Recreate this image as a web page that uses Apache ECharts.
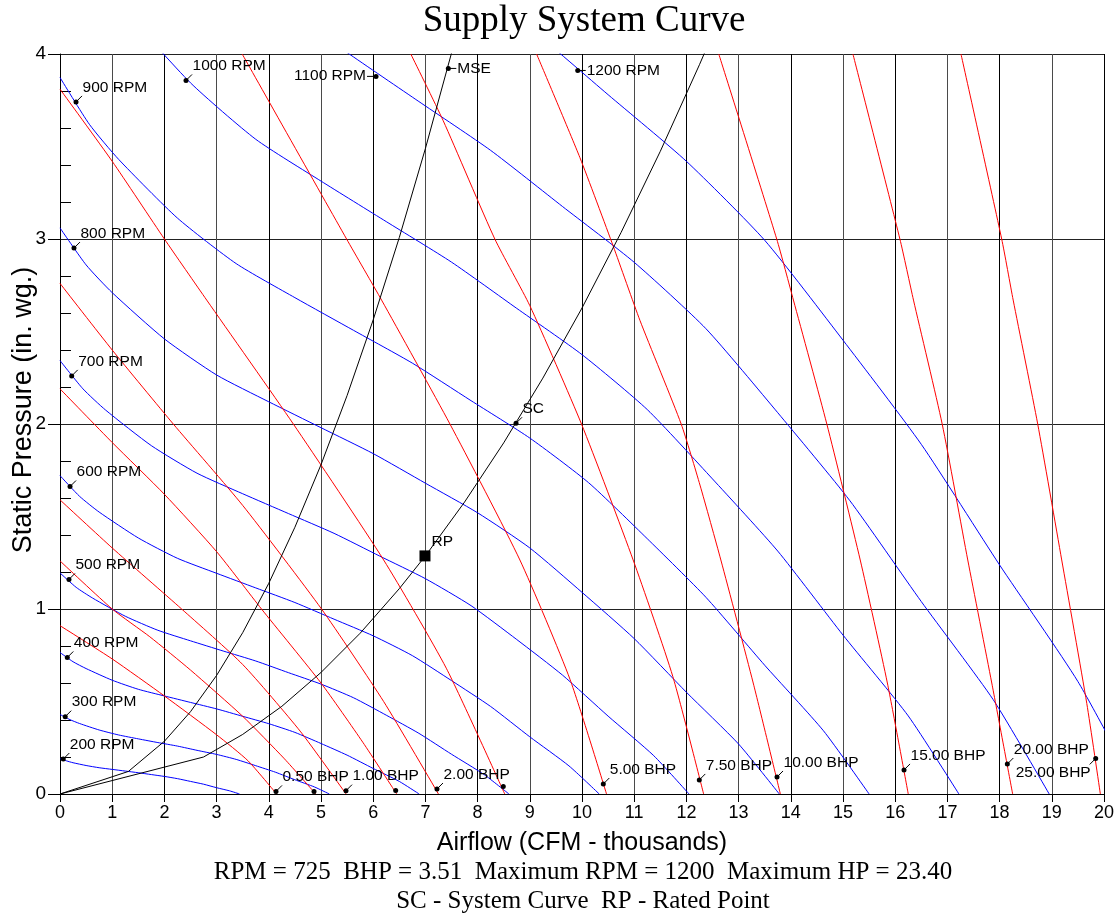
<!DOCTYPE html>
<html>
<head>
<meta charset="utf-8">
<title>Supply System Curve</title>
<script src="https://cdn.jsdelivr.net/npm/echarts/dist/echarts.min.js"></script>
<style>
  html, body { margin: 0; padding: 0; background: #fff; }
  #chart { width: 1118px; height: 916px; }
</style>
</head>
<body>
<div id="chart"></div>
<script>
// fan curves, one per speed (airflow in CFM thousands, static pressure in in. wg.)
const rpmNames = ['200 RPM', '300 RPM', '400 RPM', '500 RPM', '600 RPM', '700 RPM',
  '800 RPM', '900 RPM', '1000 RPM', '1100 RPM', '1200 RPM'];
const rpmCurves = [
  [[0,0.191],[0.125,0.179],[0.25,0.169],[0.5,0.154],[0.75,0.142],[1,0.133],[1.25,0.124],[1.5,0.115],[1.75,0.105],[2,0.095],[2.25,0.083],[2.5,0.068],[2.75,0.053],[3,0.034],[3.25,0.017],[3.44,0]],
  [[0,0.430],[0.19,0.402],[0.375,0.381],[0.75,0.346],[1.125,0.319],[1.5,0.298],[1.875,0.278],[2.25,0.259],[2.625,0.236],[3,0.214],[3.375,0.187],[3.75,0.153],[4.125,0.118],[4.5,0.077],[4.875,0.038],[5.16,0]],
  [[0,0.765],[0.25,0.715],[0.5,0.678],[1,0.615],[1.5,0.566],[2,0.53],[2.5,0.495],[3,0.46],[3.5,0.42],[4,0.38],[4.5,0.333],[5,0.273],[5.5,0.21],[6,0.138],[6.5,0.068],[6.88,0]],
  [[0,1.195],[0.31,1.117],[0.625,1.059],[1.25,0.961],[1.875,0.885],[2.5,0.828],[3.125,0.773],[3.75,0.719],[4.375,0.656],[5,0.594],[5.625,0.52],[6.25,0.426],[6.875,0.328],[7.5,0.215],[8.125,0.105],[8.6,0]],
  [[0,1.721],[0.375,1.609],[0.75,1.524],[1.5,1.384],[2.25,1.274],[3,1.193],[3.75,1.114],[4.5,1.035],[5.25,0.945],[6,0.855],[6.75,0.748],[7.5,0.613],[8.25,0.473],[9,0.309],[9.75,0.152],[10.33,0]],
  [[0,2.343],[0.44,2.19],[0.875,2.075],[1.75,1.883],[2.625,1.734],[3.5,1.623],[4.375,1.516],[5.25,1.409],[6.125,1.286],[7,1.164],[7.875,1.018],[8.75,0.835],[9.625,0.643],[10.5,0.421],[11.375,0.207],[12.05,0]],
  [[0,3.06],[0.5,2.86],[1,2.71],[2,2.46],[3,2.265],[4,2.12],[5,1.98],[6,1.84],[7,1.68],[8,1.52],[9,1.33],[10,1.09],[11,0.84],[12,0.55],[13,0.27],[13.78,0]],
  [[0,3.873],[0.5625,3.62],[1.125,3.43],[2.25,3.113],[3.375,2.867],[4.5,2.683],[5.625,2.506],[6.75,2.329],[7.875,2.126],[9,1.924],[10.125,1.683],[11.25,1.38],[12.375,1.063],[13.5,0.696],[14.625,0.342],[15.5,0]],
  [[0,4.781],[0.625,4.469],[1.25,4.234],[2.5,3.844],[3.75,3.539],[5,3.313],[6.25,3.094],[7.5,2.875],[8.75,2.625],[10,2.375],[11.25,2.078],[12.5,1.703],[13.75,1.313],[15,0.859],[16.25,0.422],[17.22,0]],
  [[0,5.785],[0.6875,5.407],[1.375,5.124],[2.75,4.651],[4.125,4.282],[5.5,4.008],[6.875,3.743],[8.25,3.479],[9.625,3.176],[11,2.874],[12.375,2.515],[13.75,2.061],[15.125,1.588],[16.5,1.04],[17.875,0.511],[18.95,0]],
  [[0,6.885],[0.75,6.435],[1.5,6.098],[3,5.535],[4.5,5.096],[6,4.77],[7.5,4.455],[9,4.14],[10.5,3.78],[12,3.42],[13.5,2.993],[15,2.453],[16.5,1.89],[18,1.238],[19.5,0.608],[20.67,0]]
];

// constant brake horsepower curves
const bhpNames = ['0.50 BHP', '0.75 BHP', '1.00 BHP', '1.50 BHP', '2.00 BHP', '3.00 BHP',
  '5.00 BHP', '7.50 BHP', '10.00 BHP', '15.00 BHP', '20.00 BHP', '25.00 BHP'];
const bhpCurves = [
  [[0,0.91],[1,0.73],[2,0.53],[3,0.32],[3.6,0.18],[4.15,0]],
  [[0,1.26],[1,1.0],[1.72,0.85],[2.5,0.67],[3.5,0.42],[4.3,0.19],[4.9,0]],
  [[0,1.59],[1,1.33],[2.33,1.0],[3.5,0.7],[4.6,0.34],[5.48,0]],
  [[0,2.19],[1,1.9],[2,1.62],[3,1.31],[3.86,1.0],[5,0.6],[5.8,0.28],[6.45,0]],
  [[0,2.76],[1,2.4],[2.17,2.0],[3.5,1.56],[5.01,1.0],[6.2,0.5],[7.25,0]],
  [[0,3.81],[1,3.42],[2,3.0],[2.81,2.67],[4.47,2.0],[6.2,1.265],[7.4,0.68],[8.52,0]],
  [[3.49,4],[5.49,3],[6.16,2.67],[7.47,2],[8.81,1.265],[9.77,0.62],[10.47,0]],
  [[6.72,4],[7.34,3.64],[8.33,3],[9.0,2.64],[9.99,2],[10.98,1.265],[11.74,0.635],[12.33,0]],
  [[9.13,4],[9.96,3.44],[10.6,2.96],[11.11,2.56],[11.9,2],[12.26,1.67],[12.66,1.265],[13.28,0.6],[13.8,0]],
  [[12.62,4],[13.73,3],[14.05,2.67],[14.69,2],[15.33,1.265],[15.85,0.6],[16.25,0]],
  [[15.19,4],[16.09,3],[16.35,2.67],[16.9,2],[17.39,1.265],[17.85,0.6],[18.25,0]],
  [[17.26,4],[18.04,3],[18.26,2.67],[18.73,2],[19.19,1.265],[19.67,0.49],[19.93,0]]
];

// system curve and maximum static efficiency curve
const systemCurve = [[0,0],[2.75,0.2],[3.5,0.322],[4.25,0.474],[5,0.657],[5.75,0.869],[6.5,1.11],[7,1.287],
  [7.75,1.578],[8.5,1.898],[9.25,2.248],[10,2.627],[10.75,3.036],[11.5,3.474],[12.25,3.942],[12.4,4.04]];
const mseCurve = [[0,0],[1.31,0.122],[2,0.285],[2.5,0.445],[3,0.641],[3.5,0.872],[4,1.139],[4.5,1.442],
  [5,1.78],[5.5,2.154],[6,2.563],[6.5,3.008],[7,3.489],[7.5,4.005]];

// labelled points on the curves
const markText = ['900 RPM', '800 RPM', '1000 RPM', '1100 RPM', 'MSE', '1200 RPM', '700 RPM', '600 RPM',
  '500 RPM', '400 RPM', '300 RPM', '200 RPM', 'SC', 'RP', '0.50 BHP', '', '1.00 BHP', '', '2.00 BHP', '',
  '5.00 BHP', '7.50 BHP', '10.00 BHP', '15.00 BHP', '20.00 BHP', '25.00 BHP'];
const markAirflow = [0.307, 0.268, 2.414, 6.054, 7.439, 9.918, 0.224, 0.192, 0.172, 0.14, 0.10, 0.063,
  8.736, 6.992, 4.138, 4.866, 5.479, 6.431, 7.222, 8.492, 10.408, 12.247, 13.736, 16.169, 18.148, 19.841];
const markPressure = [3.741, 2.951, 3.857, 3.879, 3.922, 3.911, 2.26, 1.662, 1.16, 0.738, 0.418, 0.189,
  2.004, 1.287, 0.014, 0.014, 0.018, 0.019, 0.027, 0.041, 0.054, 0.076, 0.092, 0.13, 0.162, 0.192];

const xTicks = [0, 20, 1];
const yTicks = [0, 4, 1];

const footer1 = 'RPM = 725  BHP = 3.51  Maximum RPM = 1200  Maximum HP = 23.40';
const footer2 = 'SC - System Curve  RP - Rated Point';

const fontSans = '"Liberation Sans", Arial, Helvetica, sans-serif';
const fontSerif = '"Liberation Serif", "Times New Roman", Times, serif';

// where each label sits relative to its dot
const labelSide = { '1100 RPM': 'left', 'MSE': 'right', '1200 RPM': 'right', '25.00 BHP': 'downleft' };

const chart = echarts.init(document.getElementById('chart'));

function lineSeries(name, data, color, smooth) {
  return {
    name: name,
    type: 'line',
    data: data,
    showSymbol: false,
    symbol: 'none',
    smooth: smooth,
    clip: true,
    silent: true,
    lineStyle: { color: color, width: 1 },
    z: 3
  };
}

function renderMark(params, api) {
  const p = api.coord([api.value(0), api.value(1)]);
  const text = markText[params.dataIndex];
  const children = [];
  if (text === 'RP') {
    children.push({ type: 'rect', shape: { x: p[0] - 5.5, y: p[1] - 5.5, width: 11, height: 11 }, style: { fill: '#000' } });
  } else {
    children.push({ type: 'circle', shape: { cx: p[0], cy: p[1], r: 2.5 }, style: { fill: '#000' } });
  }
  if (!text) return { type: 'group', children: children };

  const side = labelSide[text] || 'upright';
  let lx, ly, tx, ty, align;
  if (side === 'left') {
    lx = p[0] - 9; ly = p[1]; tx = p[0] - 10; ty = p[1] - 1; align = 'right';
  } else if (side === 'right') {
    lx = p[0] + 8; ly = p[1]; tx = p[0] + 9; ty = p[1]; align = 'left';
  } else if (side === 'downleft') {
    lx = p[0] - 6; ly = p[1] + 6; tx = p[0] - 5; ty = p[1] + 14.5; align = 'right';
  } else {
    lx = p[0] + 6; ly = p[1] - 6; tx = p[0] + 6.5; ty = p[1] - 14.5; align = 'left';
  }
  if (text !== 'RP') {
    children.push({ type: 'line', shape: { x1: p[0], y1: p[1], x2: lx, y2: ly }, style: { stroke: '#000', lineWidth: 1 } });
  }
  children.push({
    type: 'text', x: tx, y: ty,
    style: { text: text, fill: '#000', font: '15.5px ' + fontSans, align: align, verticalAlign: 'middle',
      textAlign: align, textVerticalAlign: 'middle' }
  });
  return { type: 'group', children: children };
}

const series = [];
rpmCurves.forEach(function (c, i) { series.push(lineSeries(rpmNames[i], c, '#0000ff', 0.2)); });
bhpCurves.forEach(function (c, i) { series.push(lineSeries(bhpNames[i], c, '#ff0000', 0.2)); });
series.push(lineSeries('SC', systemCurve, '#000', false));
series.push(lineSeries('MSE', mseCurve, '#000', false));
series.push({
  type: 'custom',
  coordinateSystem: 'cartesian2d',
  data: markText.map(function (t, i) { return [markAirflow[i], markPressure[i]]; }),
  encode: { x: 0, y: 1 },
  clip: false,
  silent: true,
  z: 10,
  renderItem: renderMark
});

function centerText(text, x, y, font, rotation) {
  return {
    type: 'text', x: x, y: y, rotation: rotation || 0, silent: true,
    style: { text: text, fill: '#000', font: font, align: 'center', verticalAlign: 'middle',
      textAlign: 'center', textVerticalAlign: 'middle' }
  };
}

let option = {
  animation: false,
  backgroundColor: '#fff',
  grid: { left: 60, right: 14, top: 54, bottom: 122 },
  xAxis: {
    type: 'value',
    min: xTicks[0], max: xTicks[1], interval: xTicks[2],
    axisLine: { show: true, onZero: false, lineStyle: { color: '#000', width: 1 } },
    axisTick: { show: true, length: 8, lineStyle: { color: '#000' } },
    axisLabel: { color: '#000', fontSize: 18, fontFamily: fontSans, margin: 10 },
    splitLine: { show: true, lineStyle: { color: ['#000', '#4a4a4a'], width: 1 } }
  },
  yAxis: [
    {
      type: 'value', position: 'left',
      min: yTicks[0], max: yTicks[1], interval: yTicks[2],
      axisLine: { show: true, onZero: false, lineStyle: { color: '#000', width: 1 } },
      axisTick: { show: true, length: 12, lineStyle: { color: '#000' } },
      axisLabel: { color: '#000', fontSize: 19, fontFamily: fontSans, margin: 14 },
      splitLine: { show: true, lineStyle: { color: '#222', width: 1 } }
    },
    {
      // minor ticks point into the plot
      type: 'value', position: 'left', offset: 0,
      min: yTicks[0], max: yTicks[1], interval: yTicks[2],
      axisLine: { show: false },
      axisTick: { show: false, inside: true },
      minorTick: { show: true, splitNumber: 5, length: 11, lineStyle: { color: '#000', width: 1 } },
      axisLabel: { show: false },
      splitLine: { show: false }
    }
  ],
  graphic: [
    centerText('Supply System Curve', 584, 21, '37px ' + fontSerif),
    centerText('Airflow (CFM - thousands)', 582, 843, '25px ' + fontSans),
    centerText('Static Pressure (in. wg.)', 24, 410, '27px ' + fontSans, Math.PI / 2),
    centerText(footer1, 583, 872, '25px ' + fontSerif),
    centerText(footer2, 583, 901, '25px ' + fontSerif)
  ],
  series: series
};

chart.setOption(option);
</script>
</body>
</html>
